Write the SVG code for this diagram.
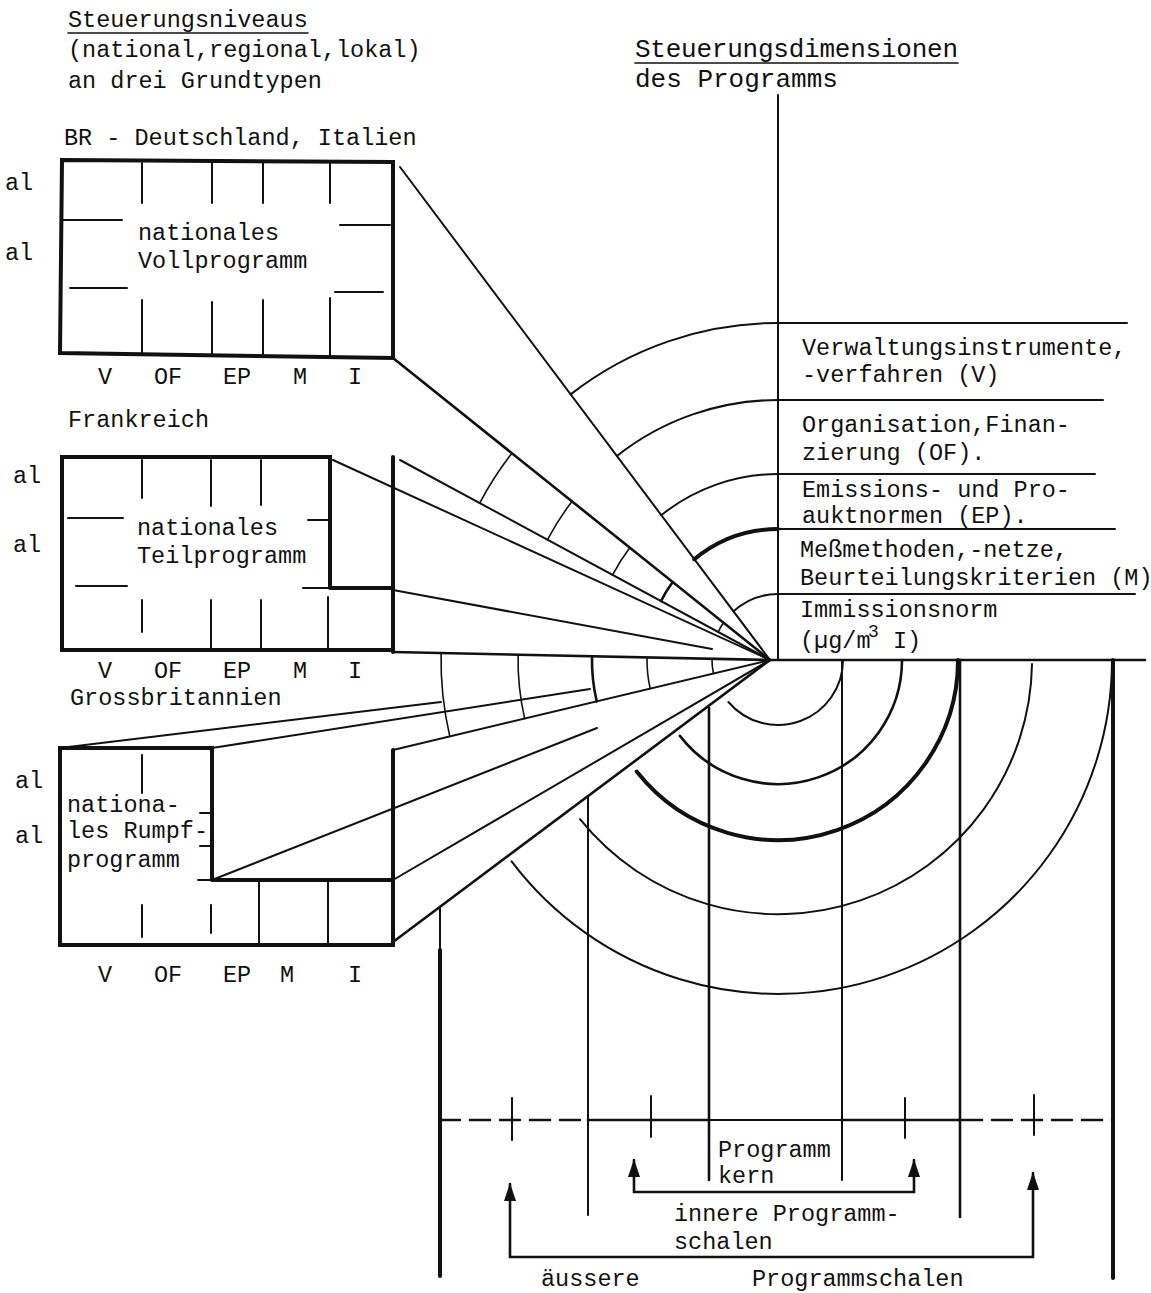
<svg xmlns="http://www.w3.org/2000/svg" width="1151" height="1293" viewBox="0 0 1151 1293">
<style>
.t{font-family:"Liberation Mono","DejaVu Sans Mono",monospace;font-size:23.5px;fill:#111}
.b{font-size:26px}
.c{text-anchor:middle}
.l{stroke:#111;fill:none;stroke-width:2;stroke-linecap:round}
.m{stroke-width:2.6}
.k{stroke-width:4}
.h{stroke-width:1.6}
</style>
<defs>
<marker id="ah" markerUnits="userSpaceOnUse" markerWidth="20" markerHeight="14" refX="17" refY="6" orient="auto-start-reverse">
<path d="M0,0 L18,6 L0,12 z" fill="#111"/>
</marker>
</defs>
<rect width="1151" height="1293" fill="#fff"/>

<g id="headings">
<text class="t" x="68" y="27">Steuerungsniveaus</text>
<line class="l h" x1="68" y1="33" x2="308" y2="33"/>
<text class="t" x="68" y="57">(national,regional,lokal)</text>
<text class="t" x="68" y="88">an drei Grundtypen</text>
<text class="t b" x="635" y="57" textLength="323">Steuerungsdimensionen</text>
<line class="l h" x1="635" y1="63" x2="958" y2="63"/>
<text class="t b" x="635" y="87">des Programms</text>
</g>

<g id="node-voll">
<text class="t" x="64" y="145">BR - Deutschland, Italien</text>
<text class="t" x="5" y="190">al</text>
<text class="t" x="5" y="260">al</text>
<polygon class="l k" points="62,160 393,162 393,358 60,353"/>
<path class="l" d="M142,163V203M212,163V203M263,163V203M330,163V203M142,300V354M212,302V355M263,300V356M330,298V357M62,220H122M70,288H127M340,225H390M335,292H383"/>
<text class="t" x="138" y="240">nationales</text>
<text class="t" x="138" y="268">Vollprogramm</text>
<text class="t c" x="105" y="384">V</text>
<text class="t c" x="168" y="384">OF</text>
<text class="t c" x="237" y="384">EP</text>
<text class="t c" x="300" y="384">M</text>
<text class="t c" x="355" y="384">I</text>
</g>

<g id="node-teil">
<text class="t" x="68" y="427">Frankreich</text>
<text class="t" x="13" y="483">al</text>
<text class="t" x="13" y="552">al</text>
<path class="l k" d="M330,588V457H62V650H393M330,588H393M393,457V652"/>
<path class="l" d="M142,460V498M211,460V506M261,460V505M68,518H123M76,586H127M308,520H330M303,588H330M142,600V632M211,600V650M261,600V650M328,597V650"/>
<text class="t" x="137" y="535">nationales</text>
<text class="t" x="137" y="563">Teilprogramm</text>
<text class="t c" x="105" y="678">V</text>
<text class="t c" x="168" y="678">OF</text>
<text class="t c" x="237" y="678">EP</text>
<text class="t c" x="300" y="678">M</text>
<text class="t c" x="355" y="678">I</text>
</g>

<g id="node-rumpf">
<text class="t" x="70" y="705">Grossbritannien</text>
<text class="t" x="15" y="788">al</text>
<text class="t" x="15" y="843">al</text>
<path class="l k" d="M212,880V748H60V945H393V750M212,880H393"/>
<path class="l" d="M198,880H212M142,755V793M200,813H212M200,846H212M142,905V937M211,905V933M259,882V943M328,882V943"/>
<text class="t" x="67" y="812">nationa-</text>
<text class="t" x="67" y="838">les Rumpf-</text>
<text class="t" x="67" y="867">programm</text>
<text class="t c" x="105" y="982">V</text>
<text class="t c" x="168" y="982">OF</text>
<text class="t c" x="237" y="982">EP</text>
<text class="t c" x="287" y="982">M</text>
<text class="t c" x="355" y="982">I</text>
</g>

<g id="node-dimensions">
<text class="t" x="802" y="355">Verwaltungsinstrumente,</text>
<text class="t" x="802" y="382">-verfahren  (V)</text>
<text class="t" x="802" y="432">Organisation,Finan-</text>
<text class="t" x="802" y="460">zierung  (OF).</text>
<text class="t" x="802" y="497">Emissions- und Pro-</text>
<text class="t" x="802" y="523">auktnormen (EP).</text>
<text class="t" x="800" y="557">Meßmethoden,-netze,</text>
<text class="t" x="800" y="585">Beurteilungskriterien (M)</text>
<text class="t" x="800" y="617">Immissionsnorm</text>
<text class="t" x="800" y="648">(µg/m</text>
<text class="t" x="868" y="637" style="font-size:18px">3</text>
<text class="t" x="893" y="648">I)</text>
</g>

<g id="node-bottom">
<text class="t" x="718" y="1157">Programm</text>
<text class="t" x="718" y="1183">kern</text>
<text class="t" x="674" y="1221">innere Programm-</text>
<text class="t" x="674" y="1249">schalen</text>
<text class="t" x="541" y="1286">äussere</text>
<text class="t" x="752" y="1286">Programmschalen</text>
</g>

<g id="connectors">
<path class="l m" d="M393,652L770,660H1145"/>
<path class="l" d="M778,95V660"/>
<path class="l" d="M400,167L770,660"/>
<path class="l m" d="M393,358L770,660"/>
<path class="l" d="M333,460L770,660"/>
<path class="l" d="M400,460L770,660"/>
<path class="l" d="M393,590L712,649"/>
<path class="l" d="M60,748L441,702"/>
<path class="l" d="M212,748L590,689"/>
<path class="l" d="M212,880L597,728"/>
<path class="l" d="M393,750L770,660"/>
<path class="l" d="M393,880L770,660"/>
<path class="l m" d="M393,942L770,660"/>
<path class="l" d="M570.6,394.4A337,337 0 0 1 778,323H1127"/>
<path class="l" d="M616.9,456A260,260 0 0 1 778,400H1103"/>
<path class="l" d="M661.3,515.2A186,186 0 0 1 778,474H1095"/>
<path class="l k" d="M694.3,559.2A131,131 0 0 1 778,529"/>
<path class="l" d="M778,529H1115"/>
<path class="l" d="M733.5,611.3A66,66 0 0 1 778,594H1135"/>
<path class="l h" d="M511.9,453.2A337,337 0 0 0 479.7,503.1"/>
<path class="l h" d="M572,501.4A260,260 0 0 0 547.5,539.7"/>
<path class="l h" d="M629.8,547.7A186,186 0 0 0 612.6,574.9"/>
<path class="l m" d="M672.7,582.1A131,131 0 0 0 661,601.1"/>
<path class="l h" d="M723.5,622.8A66,66 0 0 0 718.2,632"/>
<path class="l h" d="M441.1,653A337,337 0 0 0 449.8,736.4"/>
<path class="l h" d="M518.1,654.7A260,260 0 0 0 524.7,718.6"/>
<path class="l m" d="M592,656.2A186,186 0 0 0 596.7,701.4"/>
<path class="l h" d="M647,657.4A131,131 0 0 0 650.2,688.6"/>
<path class="l h" d="M712,658.8A66,66 0 0 0 713.4,673.5"/>
<path class="l" d="M728.4,702A65,65 0 0 0 843,660"/>
<path class="l m" d="M679.9,735.9A124,124 0 0 0 902,660"/>
<path class="l k" d="M636.7,771.6A180,180 0 0 0 958,660"/>
<path class="l" d="M580,819.2A254,254 0 0 0 1032,664"/>
<path class="l" d="M511.6,861.4A334,334 0 0 0 1112,660"/>
<path class="l" d="M440,907V950"/>
<path class="l k" d="M440,950V1276"/>
<path class="l" d="M588,796V1215"/>
<path class="l m" d="M709,708V1180"/>
<path class="l" d="M842,660V1180"/>
<path class="l m" d="M960,660V1217"/>
<path class="l k" d="M1113,660V1278"/>
<path class="l m" d="M440,1120H588" stroke-dasharray="20,10"/>
<path class="l m" d="M588,1120H709"/>
<path class="l" d="M709,1120H842" stroke-width="6"/>
<path class="l m" d="M842,1120H960"/>
<path class="l m" d="M962,1120H1113" stroke-dasharray="20,10"/>
<path class="l" d="M512,1098V1140M651,1096V1137M905,1098V1138M1034,1095V1135"/>
<path class="l m" d="M634,1160V1192H914V1160" marker-start="url(#ah)" marker-end="url(#ah)"/>
<path class="l m" d="M510,1184V1257H1033V1173" marker-start="url(#ah)" marker-end="url(#ah)"/>
</g>
</svg>
